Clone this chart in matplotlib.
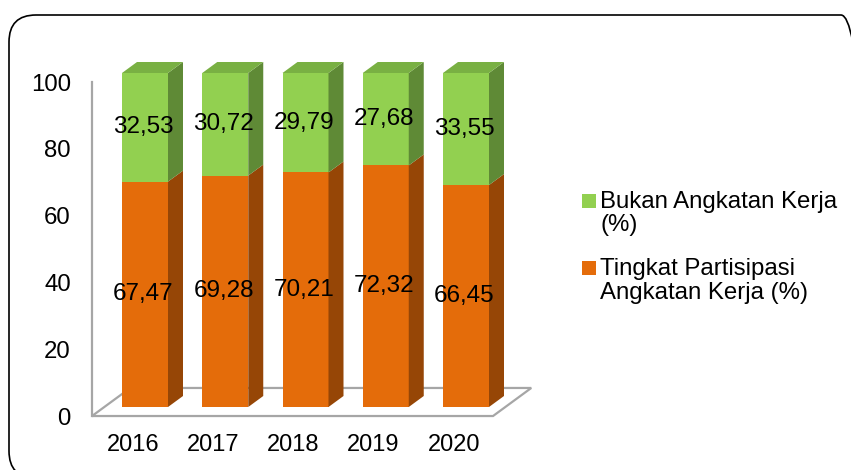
import numpy as np
import matplotlib
matplotlib.use("Agg")
import matplotlib.pyplot as plt
from matplotlib.patches import Polygon, Rectangle, FancyBboxPatch

plt.rcParams['font.family'] = ['Liberation Sans', 'DejaVu Sans']

years = ['2016', '2017', '2018', '2019', '2020']
tpak = [67.47, 69.28, 70.21, 72.32, 66.45]     # Tingkat Partisipasi Angkatan Kerja (%)
bukan = [32.53, 30.72, 29.79, 27.68, 33.55]    # Bukan Angkatan Kerja (%)

green = '#92d050'
green_side = '#5f8a36'
green_top = '#79b043'
orange = '#e46c0a'
orange_side = '#964606'
floor_col = '#a6a6a6'

W, H = 851, 470
fig = plt.figure(figsize=(W / 100, H / 100), dpi=100)

# pixel layout of the plot area (bar front faces)
px_x0, px_step = 145.0, 80.25        # centre of first bar, spacing
px_y0, px_unit = 407.0, 3.34         # y=0 and px per unit
xlim = (-0.75, 4.9)
ylim = (-4, 106)
left = px_x0 + xlim[0] * px_step
right = px_x0 + xlim[1] * px_step
bottom = px_y0 - ylim[0] * px_unit
top = px_y0 - ylim[1] * px_unit
ax = fig.add_axes([left / W, (H - bottom) / H, (right - left) / W, (bottom - top) / H])
ax.set_xlim(*xlim)
ax.set_ylim(*ylim)

bw = 46 / px_step           # bar width
DX = 15 / px_step           # depth shift (x) for one bar depth
DY = 11 / px_unit           # depth shift (y)
d_front, d_back = -0.82, 1.73

x = np.arange(len(years))
tp = np.array(tpak)
bk = np.array(bukan)

# floor
xl, xr = -0.507, 4.49
floor = Polygon([(xl + d_front * DX, d_front * DY), (xr + d_front * DX, d_front * DY),
                 (xr + d_back * DX, d_back * DY), (xl + d_back * DX, d_back * DY)],
                closed=True, facecolor='white', edgecolor=floor_col, lw=1.6, zorder=1)
ax.add_patch(floor)
ax.plot([xl + d_front * DX] * 2, [d_front * DY, 100 + d_front * DY], color=floor_col, lw=1.6, zorder=1)

# bars
ax.bar(x, tp, width=bw, color=orange, lw=0, zorder=3)
ax.bar(x, bk, bottom=tp, width=bw, color=green, lw=0, zorder=3)
for xi, a, b in zip(x, tp, bk):
    xr_ = xi + bw / 2
    ax.add_patch(Polygon([(xr_, 0), (xr_, a), (xr_ + DX, a + DY), (xr_ + DX, DY)],
                         closed=True, facecolor=orange_side, lw=0, zorder=3))
    ax.add_patch(Polygon([(xr_, a), (xr_, a + b), (xr_ + DX, a + b + DY), (xr_ + DX, a + DY)],
                         closed=True, facecolor=green_side, lw=0, zorder=3))
    t = a + b
    ax.add_patch(Polygon([(xi - bw / 2, t), (xr_, t), (xr_ + DX, t + DY), (xi - bw / 2 + DX, t + DY)],
                         closed=True, facecolor=green_top, lw=0, zorder=3))
    ax.text(xi - 0.02, a / 2, f"{a:.2f}".replace('.', ','), ha='center', va='center', fontsize=17.5, zorder=5)
    ax.text(xi - 0.02, a + b / 2, f"{b:.2f}".replace('.', ','), ha='center', va='center', fontsize=17.5, zorder=5)

# axes ticks (labels sit on the front edge of the floor)
yt = np.arange(0, 101, 20)
ax.set_yticks(yt + d_front * DY)
ax.set_yticklabels([str(v) for v in yt], fontsize=17.3)
ax.set_xticks(x + d_front * DX)
ax.set_xticklabels(years, fontsize=17)
ax.tick_params(axis='both', length=0)
ax.tick_params(axis='y', pad=10)
ax.tick_params(axis='x', pad=10)
for s in ax.spines.values():
    s.set_visible(False)

# legend
leg = [(green, ['Bukan Angkatan Kerja', '(%)'], 208),
       (orange, ['Tingkat Partisipasi', 'Angkatan Kerja (%)'], 275)]
for col, lines, base in leg:
    fig.patches.append(Rectangle((582 / W, (H - base) / H), 14 / W, 14 / H,
                                 transform=fig.transFigure, facecolor=col, lw=0))
    for k, s in enumerate(lines):
        fig.text(600 / W, (H - base - 23.5 * k) / H, s, fontsize=17.3, ha='left', va='baseline')

# rounded border
border = FancyBboxPatch((0.09, -0.08), 8.59, 4.63, boxstyle='round,pad=0,rounding_size=0.27',
                        transform=fig.dpi_scale_trans, facecolor='none', edgecolor='black', lw=1.2)
fig.patches.append(border)

fig.savefig('out.png', dpi=100)
